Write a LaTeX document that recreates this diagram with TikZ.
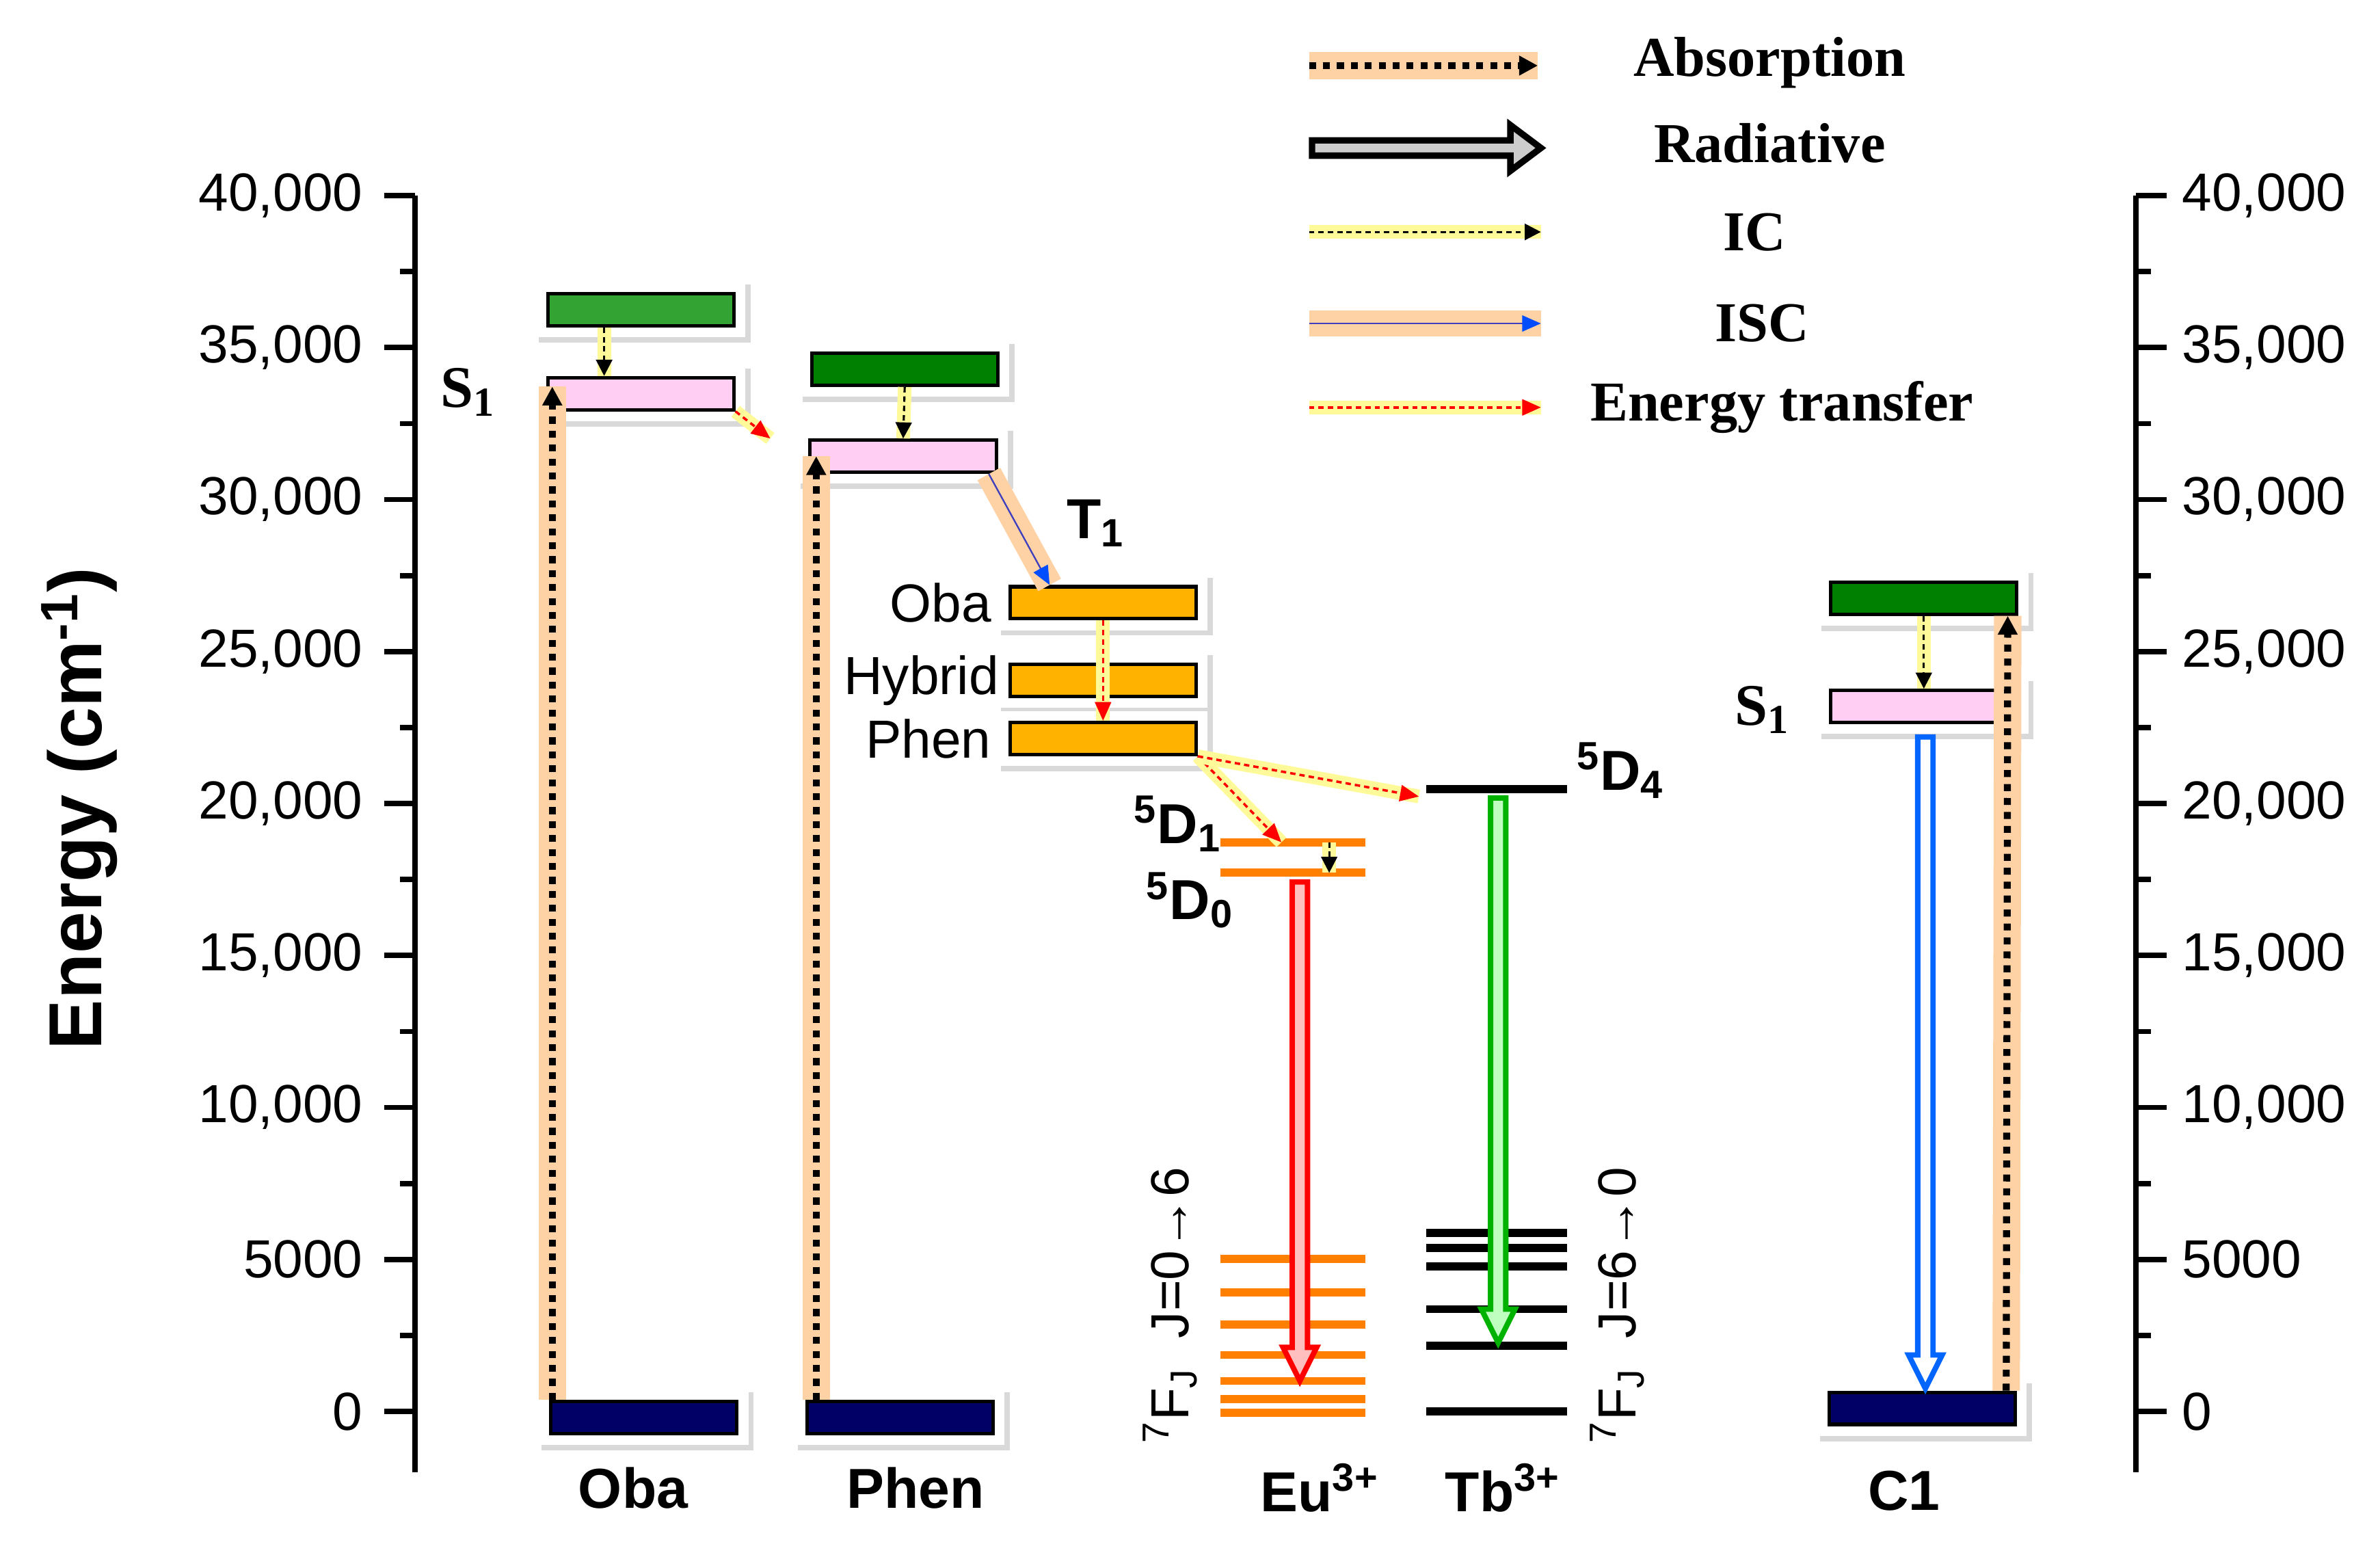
\documentclass[tikz,border=0pt]{standalone}
\usepackage{fontspec}
\setmainfont{Liberation Sans}
\newfontfamily\legfont{Liberation Serif}
\usetikzlibrary{arrows.meta, calc}

\tikzset{
  lvl/.style = {draw=black, line width=1.3pt, inner sep=0pt, minimum width=24.4mm, minimum height=4.2mm,
    preaction={draw=black!15, line width=3.4mm, transform canvas={shift={(0.5mm,-0.5mm)}}},
    preaction={draw=white, line width=3mm}},
  absorb/.style = {line width=2.6pt, dash pattern=on 2.6pt off 2.6pt, -{Triangle[length=7pt,width=7pt]},
    preaction={draw=orange!35, line width=3.6mm, solid, -}},
  ic/.style = {line width=0.8pt, dash pattern=on 2pt off 1.5pt, -{Triangle[length=6pt,width=6pt]},
    preaction={draw=yellow!40, line width=1.8mm, solid, -}},
  isc/.style = {line width=0.6pt, draw=blue!50!gray, -{Triangle[length=7pt,width=6pt,fill=blue!70!cyan,color=blue!70!cyan]},
    preaction={draw=orange!35, line width=3.4mm, -}},
  et/.style = {line width=0.9pt, red, dash pattern=on 2pt off 1.5pt, -{Triangle[length=7pt,width=6pt]},
    preaction={draw=yellow!40, line width=1.8mm, solid, -}},
  tick/.style = {font=\fontsize{20}{20}\selectfont},
  lbl/.style = {font=\bfseries\fontsize{21}{21}\selectfont},
  txt/.style = {font=\fontsize{20}{20}\selectfont},
  leg/.style = {font=\legfont\bfseries\fontsize{21}{21}\selectfont},
}
\newcommand\vrad[5]{% x, ytop, ybottom, outline, fill
  \filldraw[draw=#4, fill=#5, line width=2pt, line join=miter]
    (#1-5,#2) -- (#1+5,#2) -- (#1+5,#3-22) -- (#1+11,#3-22) -- (#1,#3) -- (#1-11,#3-22) -- (#1-5,#3-22) -- cycle;}

\begin{document}
\begin{tikzpicture}[x=0.2mm, y=-0.2mm]
  \useasboundingbox (0,0) rectangle (1560,1010.5);

  % axes
  \draw[line width=2pt] (272,128) -- (272,965);
  \draw[line width=2pt] (1400,128) -- (1400,965);
  \foreach \i/\t in {0/0,1/5000,2/{10,000},3/{15,000},4/{20,000},5/{25,000},6/{30,000},7/{35,000},8/{40,000}}{
    \draw[line width=2pt] (272,925-99.6*\i) -- (252,925-99.6*\i);
    \draw[line width=2pt] (1400,925-99.6*\i) -- (1420,925-99.6*\i);
    \node[tick, anchor=east] at (244,925-99.6*\i) {\t};
    \node[tick, anchor=west] at (1424,925-99.6*\i) {\t};
  }
  \foreach \i in {0,...,7}{
    \draw[line width=2pt] (272,925-99.6*\i-49.8) -- (262,925-99.6*\i-49.8);
    \draw[line width=2pt] (1400,925-99.6*\i-49.8) -- (1410,925-99.6*\i-49.8);
  }
  \node[rotate=90, font=\bfseries\fontsize{28}{28}\selectfont] (ylab) at (52,530) {Energy (cm\textsuperscript{-1})};

  % Oba
  \node[lvl, fill=green!55!black!80] (obaS2) at (420,203) {};
  \node[lvl, fill=pink!60!magenta!35] (obaS1) at (420,258) {};
  \node[lvl, fill=blue!40!black] (obaS0) at (422,929) {};
  \node[leg, font=\legfont\bfseries\fontsize{22}{22}\selectfont] (obaS1l) at (307,257) {S\textsubscript{1}};
  % Phen
  \node[lvl, fill=green!50!black] (phenS2) at (593,242) {};
  \node[lvl, fill=pink!60!magenta!35] (phenS1) at (592,299) {};
  \node[lvl, fill=blue!40!black] (phenS0) at (590,929) {};
  % T1
  \node[lvl, fill=orange!60!yellow] (tOba) at (723,395) {};
  \node[lvl, fill=orange!60!yellow] (tHyb) at (723,446) {};
  \node[lvl, fill=orange!60!yellow] (tPhen) at (723,484) {};
  \node[txt, anchor=east] at ([xshift=-1mm]tOba.west) {Oba};
  \node[txt, anchor=east] at (tHyb.west) {Hybrid};
  \node[txt, anchor=east] at ([xshift=-1mm]tPhen.west) {Phen};
  \node[lbl] (t1) at (718,343) {T\textsubscript{1}};
  % C1
  \node[lvl, fill=green!50!black] (c1S2) at (1261,392) {};
  \node[lvl, fill=pink!60!magenta!35] (c1S1) at (1261,463) {};
  \node[lvl, fill=blue!40!black] (c1S0) at (1260,923) {};
  \node[font=\legfont\bfseries\fontsize{22}{22}\selectfont] (c1S1l) at (1155,465) {S\textsubscript{1}};

  % Eu levels
  \draw[orange, line width=3pt] (800,552) coordinate (euD1w) -- (895,552) coordinate (euD1e);
  \draw[orange, line width=3pt] (800,572) coordinate (euD0w) -- (895,572) coordinate (euD0e);
  \foreach \y in {825,847,868,888,905,917,926}
    \draw[orange, line width=3pt] (800,\y) -- (895,\y);
  % Tb levels
  \draw[line width=3pt] (935,517) coordinate (tbD4w) -- (1027,517) coordinate (tbD4e);
  \foreach \y in {808,818,830,858,882,925}
    \draw[line width=3pt] (935,\y) -- (1027,\y);

  \node[lbl] at (772,540) {\textsuperscript{5}D\textsubscript{1}};
  \node[lbl] at (780,590) {\textsuperscript{5}D\textsubscript{0}};
  \node[lbl] at (1062,505) {\textsuperscript{5}D\textsubscript{4}};
  \node[txt, rotate=90, anchor=west] at (767,952) {\textsuperscript{7}F\textsubscript{J}\ \ J=0\symbol{"2192}6};
  \node[txt, rotate=90, anchor=west] at (1060,952) {\textsuperscript{7}F\textsubscript{J}\ \ J=6\symbol{"2192}0};

  % bottom labels
  \node[lbl] at (415,975) {Oba};
  \node[lbl] at (600,975) {Phen};
  \node[lbl] at (865,975) {Eu\textsuperscript{3+}};
  \node[lbl] at (985,975) {Tb\textsuperscript{3+}};
  \node[lbl] at (1248,977) {C1};

  % absorption
  \draw[absorb] ([xshift=-12mm]obaS0.north) -- ([xshift=-11.6mm,yshift=-1.4mm]obaS1.north);
  \draw[absorb] ([xshift=-11mm]phenS0.north) -- ([xshift=-11.4mm]phenS1.north |- phenS1.center);
  \draw[absorb] ([xshift=11mm]c1S0.north) -- ([xshift=11mm]c1S2.south);
  % IC
  \draw[ic] ([xshift=-4.8mm]obaS2.south) -- ([xshift=-4.8mm]obaS1.north);
  \draw[ic] (phenS2.south) -- (phenS1.north);
  \draw[ic] (c1S2.south) -- (c1S1.north);
  \draw[ic] ($(euD1w)!0.75!(euD1e)$) -- ($(euD0w)!0.75!(euD0e)$);
  % ISC
  \draw[isc] ([xshift=-1.2mm]phenS1.south east) -- ([xshift=-7mm]tOba.north);
  % energy transfer
  \draw[et] (obaS1.south east) -- ([xshift=-5mm]phenS1.north west);
  \draw[et] (tOba.south) -- (tPhen.north);
  \draw[et] (tPhen.south east) -- ($(euD1w)!0.42!(euD1e)$);
  \draw[et] (tPhen.south east) -- ([xshift=-1mm,yshift=-1mm]tbD4w);
  % radiative
  \vrad{852}{578}{905}{red}{red!25}
  \vrad{982}{523}{880}{green!70!black}{green!25}
  \vrad{1262}{483}{910}{blue!60!cyan}{white}

  % legend
  \draw[absorb] (858,43) coordinate (legA) -- (1008,43);
  \filldraw[line width=2.4pt, fill=black!20] (860,92) -- (990,92) -- (990,82) -- (1010,97) -- (990,112) -- (990,102) -- (860,102) -- cycle;
  \draw[ic] (858,152) -- (1010,152);
  \draw[isc] (858,212) -- (1010,212);
  \draw[et] (858,267) -- (1010,267);
  \node[leg] at (1160,41) {Absorption};
  \node[leg] at (1160,94) {Radiative};
  \node[leg] at (1150,152) {IC};
  \node[leg] at (1155,212) {ISC};
  \node[leg] at (1168,267) {Energy transfer};
\end{tikzpicture}
\end{document}
